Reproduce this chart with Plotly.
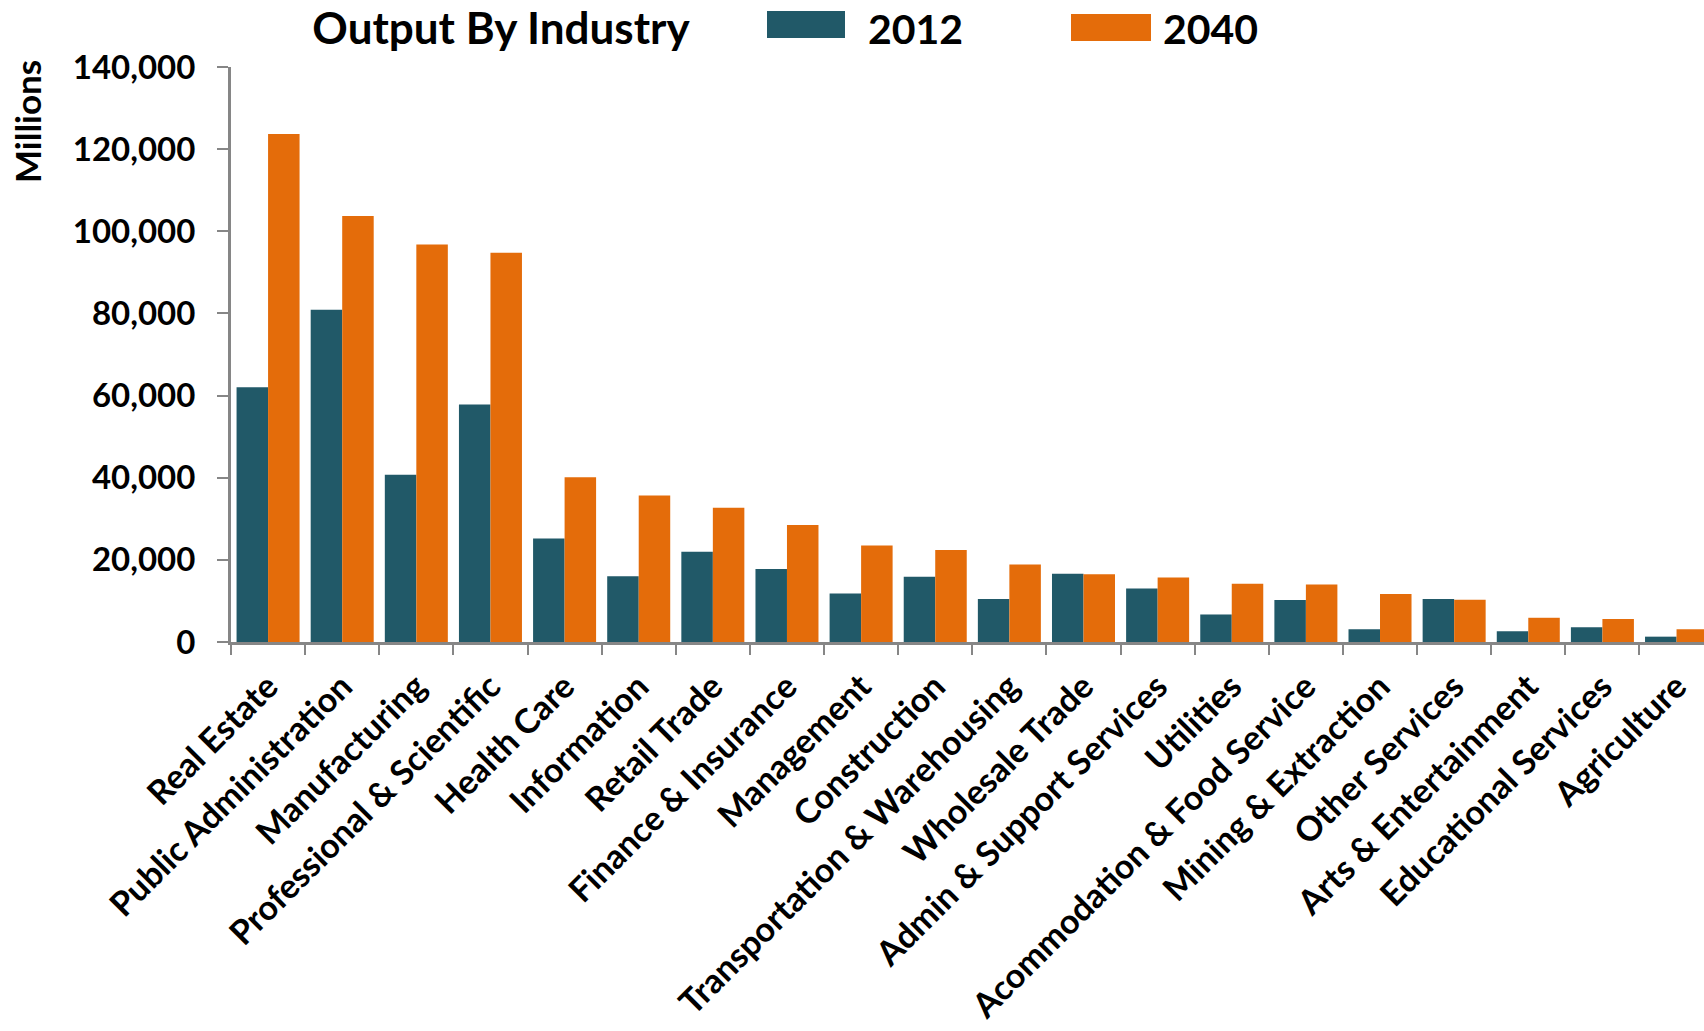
import plotly.graph_objects as go

# Industry output, millions of dollars
industries = [
    "Real Estate", "Public Administration", "Manufacturing",
    "Professional & Scientific", "Health Care", "Information",
    "Retail Trade", "Finance & Insurance", "Management", "Construction",
    "Transportation & Warehousing", "Wholesale Trade",
    "Admin & Support Services", "Utilities", "Acommodation & Food Service",
    "Mining & Extraction", "Other Services", "Arts & Entertainment",
    "Educational Services", "Agriculture",
]
output_2012 = [
    62000, 80900, 40700, 57800, 25200, 16000, 22000, 17800, 11800, 15900,
    10500, 16600, 13000, 6700, 10200, 3100, 10500, 2600, 3600, 1300,
]
output_2040 = [
    123700, 103700, 96800, 94800, 40100, 35700, 32700, 28500, 23500, 22400,
    18900, 16500, 15700, 14200, 14000, 11700, 10300, 5900, 5600, 3100,
]
series_names = ["2012", "2040"]
series_colors = ["#215968", "#E46C0A"]
y_tick_values = [0, 20000, 40000, 60000, 80000, 100000, 120000, 140000]

# Canvas and plot-area geometry (pixels)
W, H = 1704, 1031
ML, MR, MT, MB = 231, 0, 67, 389
PW, PH = W - ML - MR, H - MT - MB
CAT_PX = 74.13  # width of one category slot

FONT = "Lato"
AXIS_GREY = "#868686"


def px_x(x):
    return (x - ML) / PW


def px_y(y):
    return (H - MB - y) / PH


fig = go.Figure()
for name, values, color in zip(series_names, [output_2012, output_2040], series_colors):
    fig.add_trace(go.Bar(
        x=industries, y=values, name=name,
        marker=dict(color=color, line=dict(width=0)),
        showlegend=False,
    ))

# Legend drawn as wide colour swatches with large labels
legend_items = [
    (series_names[0], series_colors[0], 767, 845, 11, 38, 866),
    (series_names[1], series_colors[1], 1071, 1151, 14, 41, 1161),
]
shapes = []
annotations = []
for label, color, x0, x1, y0, y1, tx in legend_items:
    shapes.append(dict(
        type="rect", xref="paper", yref="paper",
        x0=px_x(x0), x1=px_x(x1), y0=px_y(y1), y1=px_y(y0),
        fillcolor=color, line=dict(width=0), layer="above",
    ))
    annotations.append(dict(
        text=f"<b>{label}</b>", xref="paper", yref="paper",
        x=px_x(tx), y=px_y(28), xanchor="left", yanchor="middle",
        showarrow=False, font=dict(family=FONT, size=41, color="black"),
    ))

# Axis title placed at the top of the value axis
annotations.append(dict(
    text="<b>Millions</b>", xref="paper", yref="paper",
    x=px_x(27), y=px_y(122), xanchor="center", yanchor="middle",
    textangle=-90, showarrow=False,
    font=dict(family=FONT, size=35, color="black"),
))

fig.update_layout(
    width=W, height=H,
    margin=dict(l=ML, r=MR, t=MT, b=MB, pad=0, autoexpand=False),
    paper_bgcolor="white", plot_bgcolor="white",
    barmode="group", bargap=0.15, bargroupgap=0,
    title=dict(
        text="<b>Output By Industry</b>",
        xref="paper", yref="container",
        x=px_x(501), y=1 - 29 / H, xanchor="center", yanchor="middle",
        font=dict(family=FONT, size=44, color="black"),
    ),
    shapes=shapes,
    annotations=annotations,
    font=dict(family=FONT, color="black"),
)

fig.update_xaxes(
    type="category",
    range=[-0.5, -0.5 + PW / CAT_PX],
    automargin=False,
    tickangle=-45,
    tickson="boundaries",
    ticks="outside", ticklen=10, tickwidth=2, tickcolor=AXIS_GREY,
    ticklabelstandoff=8,
    showline=True, linecolor=AXIS_GREY, linewidth=3,
    showgrid=False, zeroline=False,
    tickfont=dict(family=FONT, size=34, color="black", weight="bold"),
)
fig.update_yaxes(
    range=[0, 140000],
    automargin=False,
    tickvals=y_tick_values,
    tickformat=",",
    ticks="outside", ticklen=11, tickwidth=2, tickcolor=AXIS_GREY,
    ticklabelstandoff=15,
    showline=True, linecolor=AXIS_GREY, linewidth=3,
    showgrid=False, zeroline=False,
    tickfont=dict(family=FONT, size=33, color="black", weight="bold"),
)

fig.write_html("out.html")
